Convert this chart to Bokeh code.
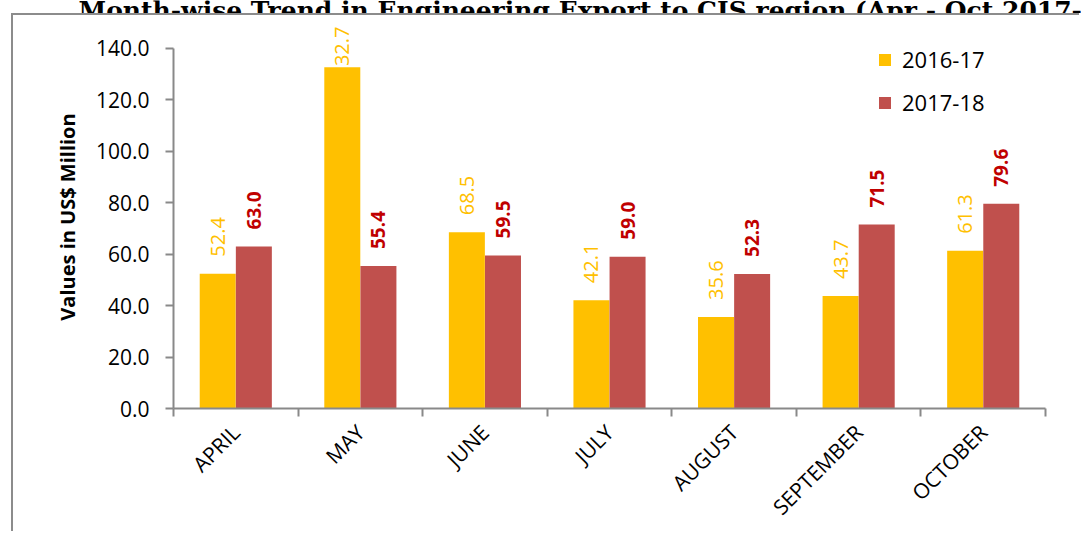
import math
from bokeh.plotting import figure
from bokeh.models import (FixedTicker, NumeralTickFormatter, Range1d, ColumnDataSource, Spacer)
from bokeh.layouts import column, row
from bokeh.core.properties import value
from bokeh.embed import file_html
from bokeh.resources import INLINE

# ---- data ----
months = ["APRIL", "MAY", "JUNE", "JULY", "AUGUST", "SEPTEMBER", "OCTOBER"]
series_names = ["2016-17", "2017-18"]
vals_1617 = [52.4, 132.7, 68.5, 42.1, 35.6, 43.7, 61.3]
vals_1718 = [63.0, 55.4, 59.5, 59.0, 52.3, 71.5, 79.6]
y_ticks = [0, 20, 40, 60, 80, 100, 120, 140]
title_text = "Month-wise Trend in Engineering Export to CIS region (Apr - Oct 2017-18)"
y_label = "Values in US$ Million"

YELLOW = "#FFC000"
RED = "#C0504D"
RED_TXT = "#C00000"
GRAY = "#898989"
BORDER = "#8c8c8c"
FONT = "Open Sans"

# ---- header with the (top-clipped) title ----
HW, HH = 1081, 13
header = figure(width=HW, height=HH, output_backend="svg", toolbar_location=None,
                x_range=Range1d(0, HW), y_range=Range1d(HH, 0),
                x_axis_location=None, y_axis_location=None,
                min_border_left=0, min_border_right=0, min_border_top=0, min_border_bottom=0)
header.outline_line_color = None
header.xgrid.grid_line_color = None
header.ygrid.grid_line_color = None
header.text(x=[78], y=[10], text=[title_text], text_font=value("DejaVu Serif"),
            text_font_style="bold", text_font_size="25px", text_baseline="alphabetic",
            text_align="left", text_color="black")

# ---- main chart ----
W, H = 1068, 518
ox, oy = 13, 15                     # canvas origin in the page
frame_left, frame_right = 173 - ox, 1045 - ox
frame_top, frame_bottom = 25 - oy, 410 - oy
px_per_unit = (410 - 48) / 140.0
y_top = (frame_bottom - frame_top) / px_per_unit

p = figure(width=W, height=H, output_backend="svg", toolbar_location=None,
           x_range=Range1d(0, len(months)), y_range=Range1d(0, y_top),
           min_border_left=frame_left, min_border_right=W - frame_right,
           min_border_top=frame_top, min_border_bottom=H - frame_bottom)
p.styles = {"border-left": f"2px solid {BORDER}", "border-top": f"2px solid {BORDER}"}
p.outline_line_color = None
p.xgrid.grid_line_color = None
p.ygrid.grid_line_color = None

n = len(months)
bw = 0.289
off = 0.145
centers = [i + 0.5 for i in range(n)]
x1 = [c - off for c in centers]
x2 = [c + off for c in centers]

LABEL_GAP = 17       # px between bar top and its value label
CHAR_PX = 10.5       # approx. length of one label character


def label_cols(vals):
    """Labels sit above the bar; if they would leave the plot area they are
    pushed down to end at its top edge (as the spreadsheet does)."""
    labs = [f"{v:.1f}" for v in vals]
    ys, aligns, offs = [], [], []
    for v, lab in zip(vals, labs):
        need = (LABEL_GAP + CHAR_PX * len(lab)) / px_per_unit
        if v + need > y_top:
            ys.append(y_top); aligns.append("right"); offs.append(1)
        else:
            ys.append(v); aligns.append("left"); offs.append(-LABEL_GAP)
    return labs, ys, aligns, offs


l1, y1, a1, o1 = label_cols(vals_1617)
l2, y2, a2, o2 = label_cols(vals_1718)
src1 = ColumnDataSource(dict(x=x1, top=vals_1617, lab=l1, ly=y1, al=a1, yo=o1))
src2 = ColumnDataSource(dict(x=x2, top=vals_1718, lab=l2, ly=y2, al=a2, yo=o2))

p.vbar(x="x", top="top", width=bw, source=src1, fill_color=YELLOW, line_color=None,
       legend_label=series_names[0])
p.vbar(x="x", top="top", width=bw, source=src2, fill_color=RED, line_color=None,
       legend_label=series_names[1])

p.text(x="x", y="ly", text="lab", source=src1, angle=math.pi / 2,
       text_align="al", text_baseline="middle", y_offset="yo",
       text_color=YELLOW, text_font=value(FONT), text_font_size="20px",
       text_font_style="normal")
p.text(x="x", y="ly", text="lab", source=src2, angle=math.pi / 2,
       text_align="al", text_baseline="middle", y_offset="yo",
       text_color=RED_TXT, text_font=value(FONT), text_font_size="19px",
       text_font_style="bold")

# x axis: labels at centers, ticks at category boundaries
xa = p.xaxis[0]
xa.ticker = FixedTicker(ticks=centers, minor_ticks=list(range(n + 1)))
xa.major_label_overrides = {c: m for c, m in zip(centers, months)}
xa.major_tick_out = 0
xa.major_tick_in = 0
xa.minor_tick_out = 8
xa.minor_tick_in = 0
xa.minor_tick_line_color = GRAY
xa.minor_tick_line_width = 2
xa.axis_line_color = GRAY
xa.axis_line_width = 2
xa.major_label_orientation = math.pi / 4
xa.major_label_standoff = 12
xa.major_label_text_font = FONT
xa.major_label_text_font_size = "21px"
xa.major_label_text_color = "black"

ya = p.yaxis[0]
ya.ticker = FixedTicker(ticks=y_ticks)
ya.formatter = NumeralTickFormatter(format="0.0")
ya.bounds = (0, 140)
ya.major_tick_out = 8
ya.major_tick_in = 0
ya.minor_tick_out = 0
ya.minor_tick_in = 0
ya.major_tick_line_color = GRAY
ya.major_tick_line_width = 2
ya.axis_line_color = GRAY
ya.axis_line_width = 2
ya.major_label_standoff = 16
ya.major_label_text_font = FONT
ya.major_label_text_font_size = "21px"
ya.major_label_text_color = "black"
ya.axis_label = y_label
ya.axis_label_text_font = FONT
ya.axis_label_text_font_size = "20px"
ya.axis_label_text_font_style = "bold"
ya.axis_label_text_color = "black"
ya.axis_label_standoff = 12

# legend
lg = p.legend[0]
lg.location = (704, 291)
lg.padding = 0
lg.margin = 0
lg.border_line_color = None
lg.background_fill_alpha = 0
lg.glyph_width = 15
lg.glyph_height = 15
lg.label_height = 22
lg.label_standoff = 10
lg.spacing = 13
lg.label_text_font = FONT
lg.label_text_font_size = "22px"
lg.label_text_color = "black"

layout = column(header, row(Spacer(width=11, height=H), p, spacing=0), spacing=0)

open("out.html", "w").write(file_html(layout, INLINE))
